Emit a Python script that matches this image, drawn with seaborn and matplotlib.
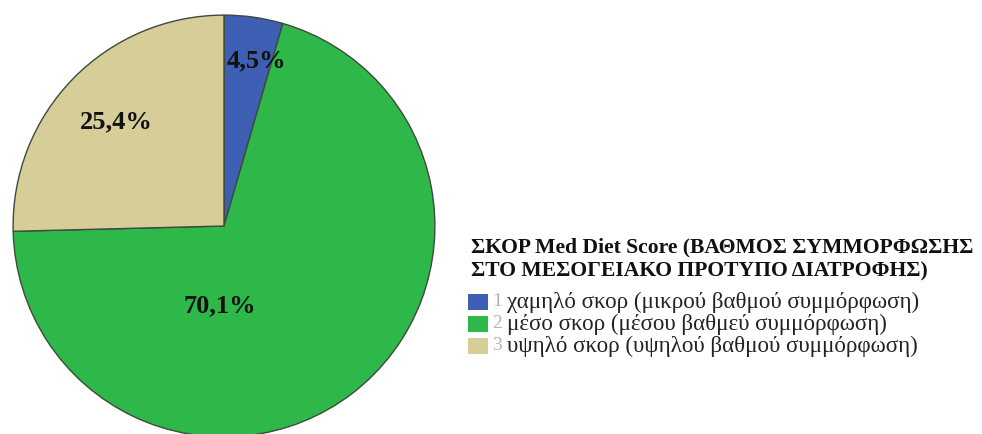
import matplotlib
matplotlib.use("Agg")
import matplotlib.pyplot as plt
from matplotlib.patches import Rectangle
import seaborn as sns
import numpy as np

sns.set_theme(style="white")
plt.rcParams["font.family"] = ["Liberation Serif", "DejaVu Serif"]

# Distribution of Med Diet Score adherence groups
codes = ["1", "2", "3"]
categories = [
    "χαμηλό σκορ (μικρού βαθμού συμμόρφωση)",
    "μέσο σκορ (μέσου βαθμεύ συμμόρφωση)",
    "υψηλό σκορ (υψηλού βαθμού συμμόρφωση)",
]
percentages = [4.5, 70.1, 25.4]
pct_labels = ["4,5%", "70,1%", "25,4%"]
legend_title = ["ΣΚΟΡ Med Diet Score (ΒΑΘΜΟΣ ΣΥΜΜΟΡΦΩΣΗΣ",
                "ΣΤΟ ΜΕΣΟΓΕΙΑΚΟ ΠΡΟΤΥΠΟ ΔΙΑΤΡΟΦΗΣ)"]
colors = ["#3f5fb4", "#2fb84a", "#d7cd99"]

# label placement inside each slice: (angle in degrees, fraction of radius)
label_pos = [(79, 0.80), (-93, 0.38), (136, 0.71)]

W, H = 982, 434
fig = plt.figure(figsize=(W / 100, H / 100), dpi=100)
fig.patch.set_facecolor("white")

cx, cy, r = 224, 226, 213
ax = fig.add_axes([(cx - r) / W, (H - cy - r) / H, 2 * r / W, 2 * r / H])
ax.pie(percentages, colors=colors, startangle=90, counterclock=False,
       radius=1.0,
       wedgeprops=dict(edgecolor="#3d4a3d", linewidth=1.0))
ax.set_xlim(-1.01, 1.01)
ax.set_ylim(-1.01, 1.01)
ax.axis("off")

for txt, (ang, frac) in zip(pct_labels, label_pos):
    a = np.deg2rad(ang)
    ax.text(frac * np.cos(a), frac * np.sin(a), txt, ha="center", va="center",
            fontsize=19, fontweight="bold", color="#111111")

# legend block
for i, line in enumerate(legend_title):
    fig.text(471 / W, 1 - (247 + 24 * i) / H, line, ha="left", va="center",
             fontsize=15.6, fontweight="bold", color="#111111")

for i, (code, cat, col) in enumerate(zip(codes, categories, colors)):
    yc = 302 + 22 * i
    fig.patches.append(Rectangle((468 / W, 1 - (yc + 8) / H), 20 / W, 16 / H,
                                 transform=fig.transFigure, facecolor=col,
                                 edgecolor="none"))
    fig.text(492 / W, 1 - yc / H, code, ha="left", va="center",
             fontsize=14, color="#b4b4b4")
    fig.text(507 / W, 1 - yc / H, cat, ha="left", va="center",
             fontsize=16.6, color="#222222")

fig.savefig("out.png", dpi=100, facecolor="white")
